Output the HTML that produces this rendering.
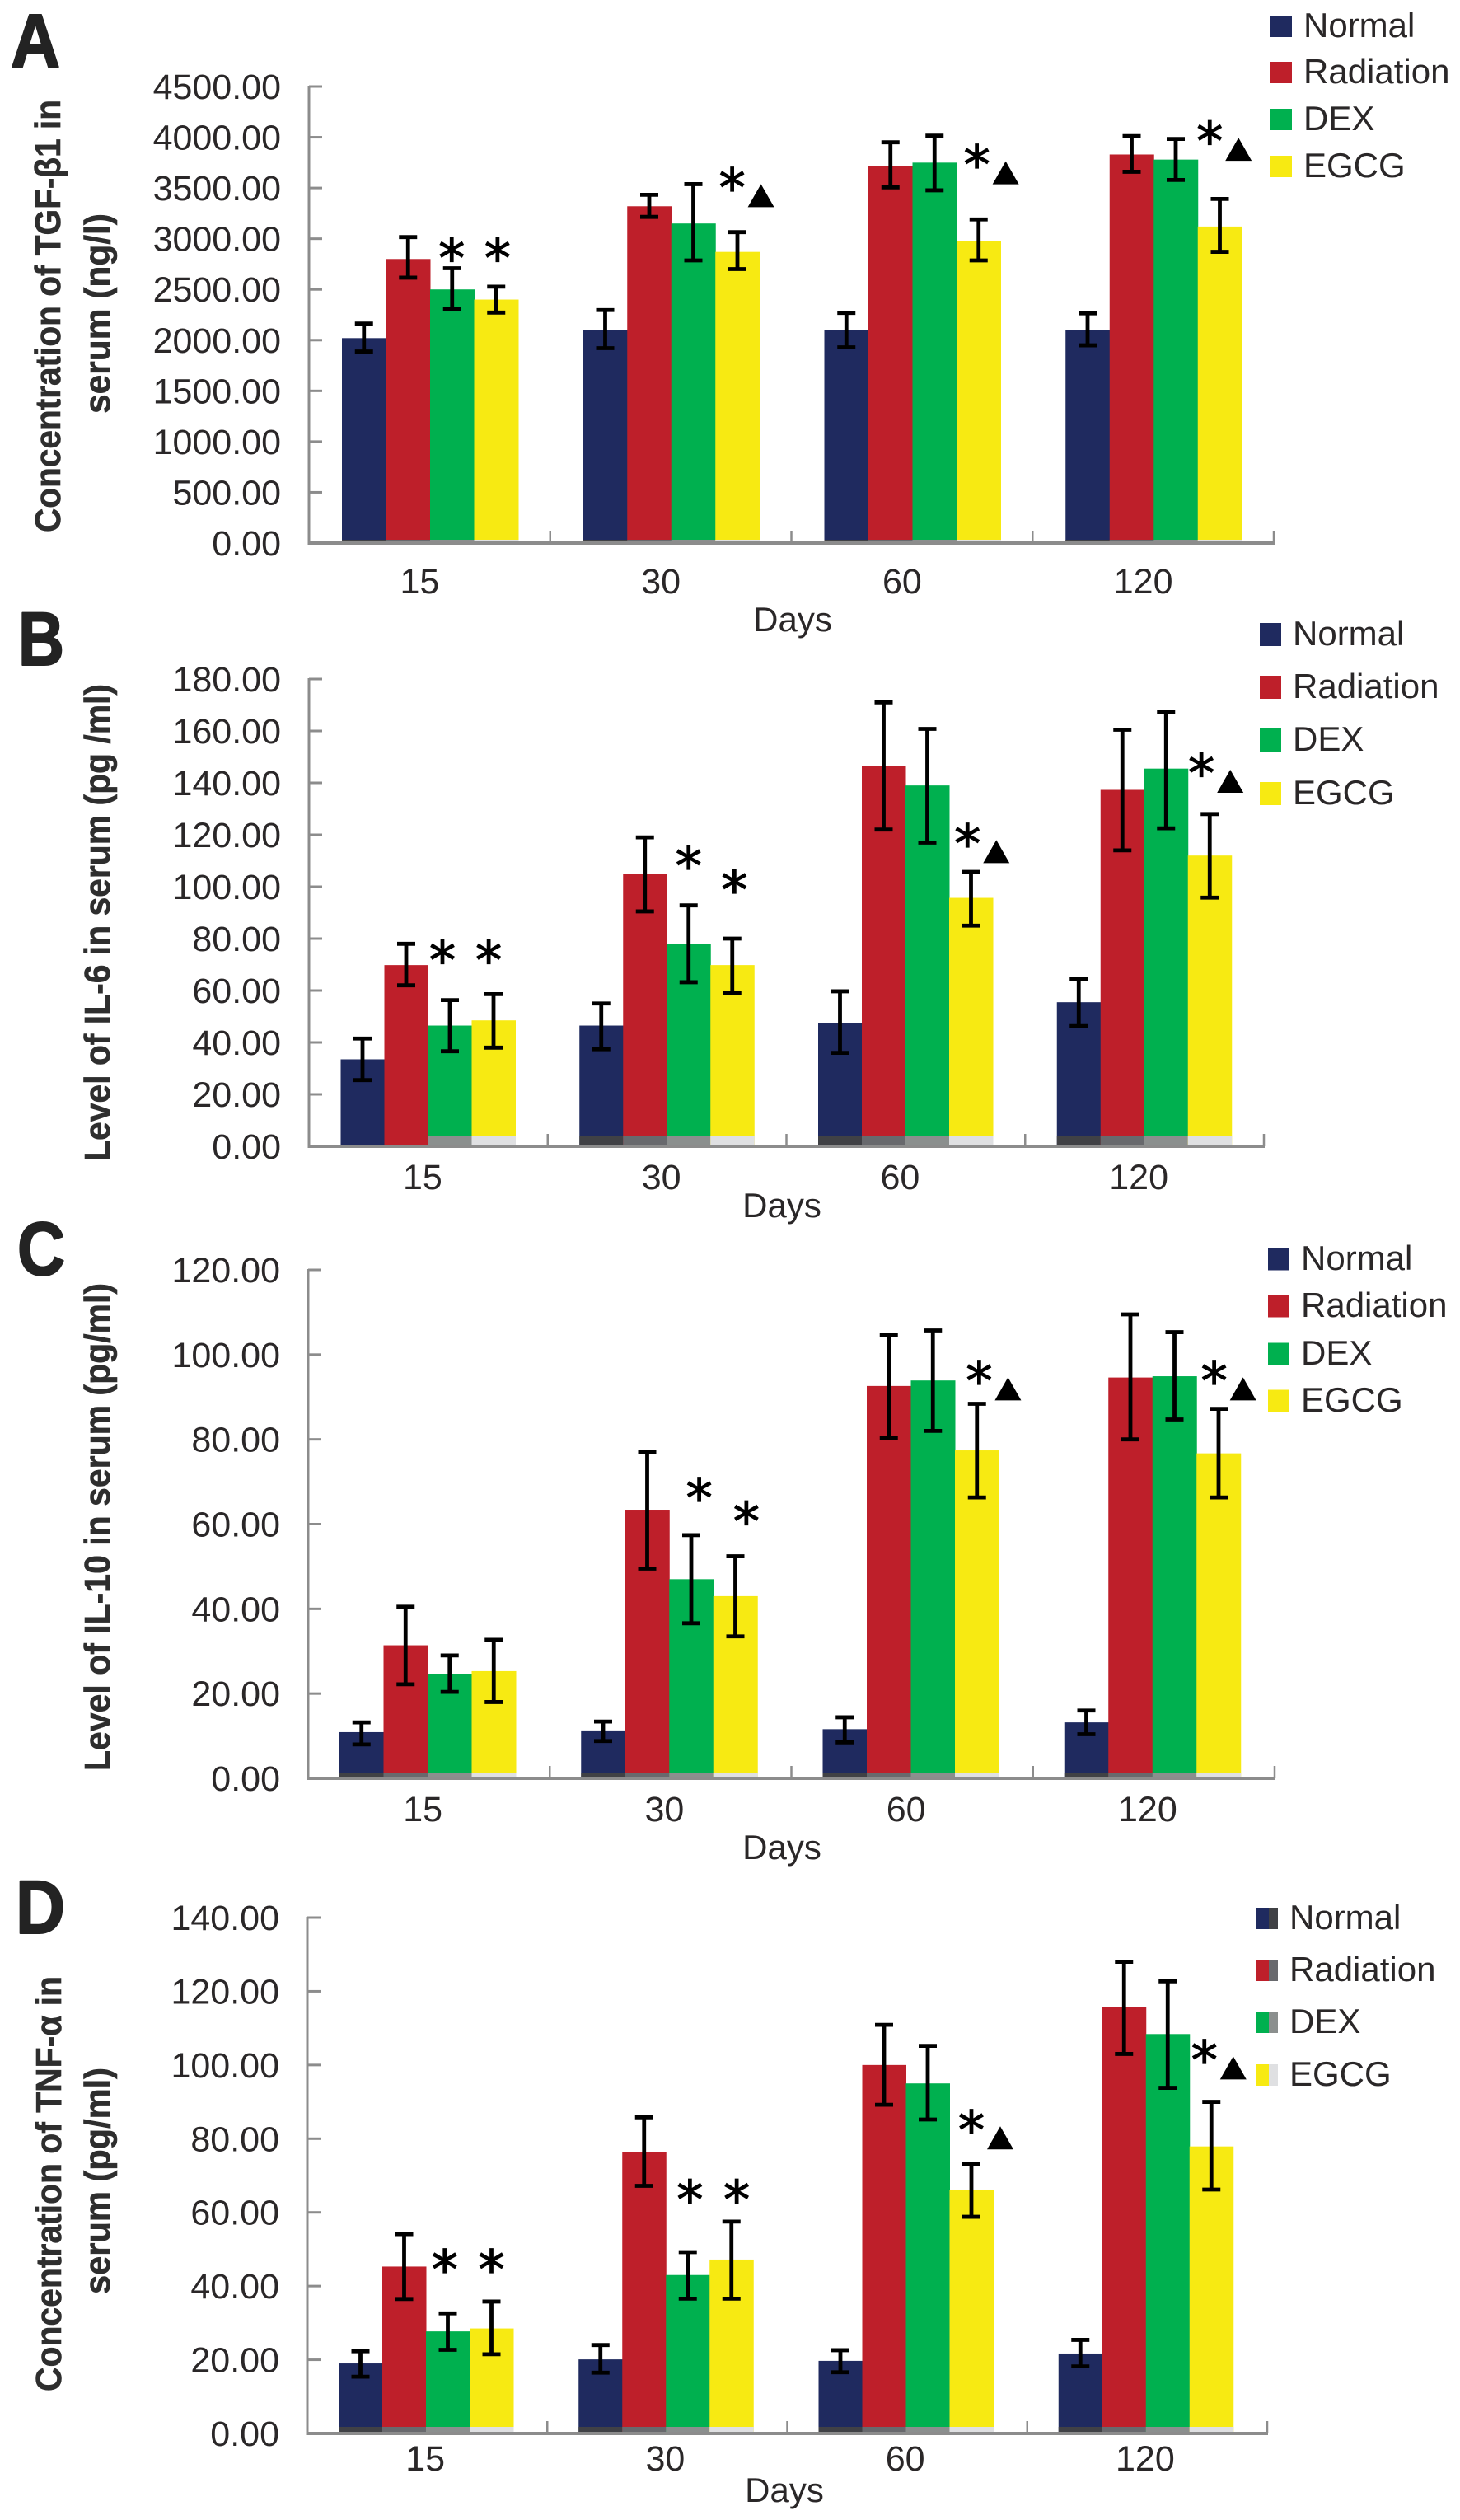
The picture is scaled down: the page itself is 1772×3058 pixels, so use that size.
<!DOCTYPE html>
<html lang="en">
<head>
<meta charset="utf-8">
<title>Serum cytokine levels by group and day</title>
<style>
html,body{margin:0;padding:0;background:#fff;}
svg{display:block;}
text{font-family:"Liberation Sans",sans-serif;fill:#2a2728;}
.tl{font-size:42px;}
.tk{font-size:43px;}
.yt{font-size:44px;font-weight:bold;fill:#2e2e2e;stroke:#2e2e2e;stroke-width:0.6px;}
.pl{font-size:92px;font-weight:bold;fill:#232323;stroke:#232323;stroke-width:2px;stroke-linejoin:round;}
</style>
</head>
<body>
<svg id="figure" xmlns="http://www.w3.org/2000/svg" width="1772" height="3058" viewBox="0 0 1772 3058">
  <rect x="0" y="0" width="1772" height="3058" fill="#fff"/>

  <g id="panel-a">
    <text class="pl" x="13" y="81" textLength="60" lengthAdjust="spacingAndGlyphs">A</text>
    <text class="yt" transform="translate(73,646) rotate(-90)" textLength="525" lengthAdjust="spacingAndGlyphs">Concentration of TGF-β1 in</text>
    <text class="yt" transform="translate(133,502) rotate(-90)" textLength="243" lengthAdjust="spacingAndGlyphs">serum (ng/l)</text>
    <text class="tl" x="962" y="766" text-anchor="middle">Days</text>
  </g>

  <g id="panel-b">
    <text class="pl" x="22" y="807" textLength="56" lengthAdjust="spacingAndGlyphs">B</text>
    <text class="yt" transform="translate(133,1409) rotate(-90)" textLength="579" lengthAdjust="spacingAndGlyphs">Level of IL-6 in serum (pg /ml)</text>
    <text class="tl" x="949" y="1477" text-anchor="middle">Days</text>
  </g>

  <g id="panel-c">
    <text class="pl" x="21" y="1547" textLength="58" lengthAdjust="spacingAndGlyphs">C</text>
    <text class="yt" transform="translate(133,2149) rotate(-90)" textLength="592" lengthAdjust="spacingAndGlyphs">Level of IL-10 in serum (pg/ml)</text>
    <text class="tl" x="949" y="2256" text-anchor="middle">Days</text>
  </g>

  <g id="panel-d">
    <text class="pl" x="19" y="2346" textLength="60" lengthAdjust="spacingAndGlyphs">D</text>
    <text class="yt" transform="translate(74,2902) rotate(-90)" textLength="504" lengthAdjust="spacingAndGlyphs">Concentration of TNF-α in</text>
    <text class="yt" transform="translate(133,2784) rotate(-90)" textLength="275" lengthAdjust="spacingAndGlyphs">serum (pg/ml)</text>
    <text class="tl" x="952" y="3036" text-anchor="middle">Days</text>
  </g>
</svg>

<script>
// ---- data ----
const categories = ['15', '30', '60', '120'];
const seriesNames = ['Normal', 'Radiation', 'DEX', 'EGCG'];

const aTicks = ['0.00', '500.00', '1000.00', '1500.00', '2000.00', '2500.00', '3000.00', '3500.00', '4000.00', '4500.00'];
const aNormal = [2020, 2100, 2100, 2100];
const aNormalHi = [2163, 2297, 2268, 2264];
const aNormalLo = [1888, 1921, 1929, 1949];
const aRadiation = [2800, 3320, 3720, 3830];
const aRadiationHi = [3016, 3433, 3950, 4011];
const aRadiationLo = [2616, 3215, 3506, 3660];
const aDex = [2500, 3150, 3750, 3780];
const aDexHi = [2709, 3538, 4015, 3983];
const aDexLo = [2305, 2786, 3477, 3579];
const aEgcg = [2400, 2870, 2980, 3120];
const aEgcgHi = [2527, 3065, 3190, 3392];
const aEgcgLo = [2272, 2701, 2786, 2871];
// group index, fractional bar slot, value level, has triangle
const aMarks = [[0, 2.49, 2891, 0], [0, 3.53, 2891, 0], [1, 3.38, 3587, 1], [2, 3.46, 3813, 1], [3, 3.27, 4044, 1]];

const bTicks = ['0.00', '20.00', '40.00', '60.00', '80.00', '100.00', '120.00', '140.00', '160.00', '180.00'];
const bNormal = [33.5, 46.5, 47.5, 55.5];
const bNormalHi = [41.5, 55, 59.7, 64.3];
const bNormalLo = [25.5, 37.4, 36, 46.3];
const bRadiation = [69.8, 105, 146.5, 137.3];
const bRadiationHi = [78, 119, 171, 160.5];
const bRadiationLo = [62, 90.5, 122, 114];
const bDex = [46.5, 77.8, 139, 145.5];
const bDexHi = [56.3, 92.8, 160.8, 167.4];
const bDexLo = [36.6, 63.2, 117, 122.5];
const bEgcg = [48.5, 69.8, 95.7, 112];
const bEgcgHi = [58.6, 80, 105.7, 128];
const bEgcgLo = [38, 59, 85, 95.8];
const bMarks = [[0, 2.33, 75, 0], [0, 3.39, 75, 0], [1, 2.5, 111.2, 0], [1, 3.55, 102, 0], [2, 3.42, 119.9, 1], [3, 3.31, 147, 1]];

const cTicks = ['0.00', '20.00', '40.00', '60.00', '80.00', '100.00', '120.00'];
const cNormal = [10.9, 11.3, 11.6, 13.2];
const cNormalHi = [13.2, 13.4, 14.4, 16];
const cNormalLo = [8, 8.8, 8.5, 10.4];
const cRadiation = [31.4, 63.4, 92.6, 94.6];
const cRadiationHi = [40.5, 77, 104.7, 109.5];
const cRadiationLo = [22.2, 49.5, 80.3, 80];
const cDex = [24.7, 47, 93.9, 94.9];
const cDexHi = [29, 57.4, 105.7, 105.3];
const cDexLo = [20.4, 36.6, 82, 84.7];
const cEgcg = [25.3, 43, 77.4, 76.7];
const cEgcgHi = [32.7, 52.4, 88.4, 87.2];
const cEgcgLo = [18, 33.5, 66.3, 66.3];
const cMarks = [[1, 2.68, 68.2, 0], [1, 3.75, 62.6, 0], [2, 3.55, 95.8, 1], [3, 3.4, 95.8, 1]];

const dTicks = ['0.00', '20.00', '40.00', '60.00', '80.00', '100.00', '120.00', '140.00'];
const dNormal = [19, 20.1, 19.7, 21.7];
const dNormalHi = [22.3, 24, 22.6, 25.4];
const dNormalLo = [15.4, 16.5, 16.6, 18.2];
const dRadiation = [45.3, 76.4, 100, 115.7];
const dRadiationHi = [54.1, 85.8, 110.9, 128];
const dRadiationLo = [36.5, 67.2, 89.2, 103];
const dDex = [27.7, 43, 95, 108.4];
const dDexHi = [32.6, 49.2, 105.2, 122.7];
const dDexLo = [22.7, 36.6, 85.2, 93.8];
const dEgcg = [28.5, 47.2, 66.2, 77.9];
const dEgcgHi = [35.8, 57.5, 73.1, 90];
const dEgcgLo = [21.5, 36.6, 58.8, 66.2];
const dMarks = [[0, 2.43, 46.9, 0], [0, 3.5, 46.9, 0], [1, 2.55, 65.8, 0], [1, 3.62, 65.8, 0], [2, 3.5, 84.7, 1], [3, 3.34, 103.7, 1]];

// ---- styling ----
const colors = ['#1f2a5f', '#be1f2a', '#00b04f', '#f7ea12'];
const stripColors = ['#404145', '#68696d', '#8b8f8e', '#dfe0e2'];
const NS = 'http://www.w3.org/2000/svg';

function make(parent, tag, attrs, text) {
  const el = document.createElementNS(NS, tag);
  for (const k in attrs) el.setAttribute(k, attrs[k]);
  if (text !== undefined) el.textContent = text;
  parent.appendChild(el);
  return el;
}

function drawPanel(cfg) {
  const root = document.getElementById(cfg.id);
  const tickVals = cfg.ticks.map(Number);
  const yMax = tickVals[tickVals.length - 1];
  const y = v => cfg.y0 - (v / yMax) * (cfg.y0 - cfg.yTop);
  const groupW = (cfg.xEnd - cfg.x0) / categories.length;
  const groupX = g => cfg.x0 + g * groupW + cfg.barOffset;
  const barX = (g, s) => groupX(g) + s * cfg.barW;

  // bars
  cfg.values.forEach((vals, s) => {
    vals.forEach((v, g) => {
      const bar = make(root, 'rect', { x: barX(g, s), y: y(v), width: cfg.barW + 0.5, height: cfg.y0 - y(v), fill: colors[s] });
      
      
      const skip = cfg.stripSkip && g === 0 && s < 2;
      if (!skip) {
        const strip = make(root, 'rect', { x: barX(g, s), y: cfg.y0 - cfg.stripH, width: cfg.barW + 0.5, height: cfg.stripH, fill: stripColors[s] });
        
        
      }
    });
  });

  // error bars
  cfg.values.forEach((vals, s) => {
    vals.forEach((v, g) => {
      const cx = barX(g, s) + cfg.barW / 2;
      const top = y(cfg.hi[s][g]);
      const bot = y(cfg.lo[s][g]);
      const err = make(root, 'path', {
        d: 'M' + (cx - 11) + ' ' + top + 'H' + (cx + 11) + 'M' + cx + ' ' + top + 'V' + bot + 'M' + (cx - 11) + ' ' + bot + 'H' + (cx + 11),
        stroke: '#000', 'stroke-width': 4.8, fill: 'none'
      });
      
      
    });
  });

  // axes
  const yAxis = make(root, 'line', { x1: cfg.x0, y1: cfg.yTop - 1, x2: cfg.x0, y2: cfg.y0 + 2, stroke: '#8c8c8c', 'stroke-width': 3 });
  
  
  const xAxis = make(root, 'line', { x1: cfg.x0, y1: cfg.y0, x2: cfg.xEnd + 1, y2: cfg.y0, stroke: '#8c8c8c', 'stroke-width': 4 });
  
  

  cfg.ticks.forEach((label, i) => {
    const ty = y(tickVals[i]);
    if (i > 0) {
      const t = make(root, 'line', { x1: cfg.x0, y1: ty, x2: cfg.x0 + 16, y2: ty, stroke: '#8c8c8c', 'stroke-width': 3 });
      
      
    }
    const lab = make(root, 'text', { class: 'tk', x: cfg.x0 - 34, y: ty + 15, 'text-anchor': 'end' }, label);
    
    
  });

  for (let g = 1; g <= categories.length; g++) {
    const tx = cfg.x0 + g * groupW;
    const t = make(root, 'line', { x1: tx, y1: cfg.y0 - 15, x2: tx, y2: cfg.y0, stroke: '#8c8c8c', 'stroke-width': 2.5 });
    
    
  }
  categories.forEach((c, g) => {
    const lab = make(root, 'text', { class: 'tk', x: cfg.x0 + (g + 0.5) * groupW + cfg.catOffset, y: cfg.catY, 'text-anchor': 'middle' }, c);
    
    
  });

  // significance marks
  cfg.marks.forEach(m => {
    const mx = groupX(m[0]) + m[1] * cfg.barW;
    const my = y(m[2]);
    const star = make(root, 'text', { x: mx, y: my + 33, 'text-anchor': 'middle', style: 'font-family:"DejaVu Sans",sans-serif;font-size:64px;fill:#000;stroke:#000;stroke-width:1.2px' }, '*');
    
    
    if (m[3]) {
      const tx = mx + 35;
      const ty = my + 20;
      const tri = make(root, 'polygon', { points: (tx - 16) + ',' + (ty + 14) + ' ' + (tx + 16) + ',' + (ty + 14) + ' ' + tx + ',' + (ty - 14), fill: '#000' });
      
      
    }
  });

  // legend
  seriesNames.forEach((name, s) => {
    const cy = cfg.legendY[s];
    const sw = make(root, 'rect', { x: cfg.legendX, y: cy - cfg.swatchH / 2, width: 26, height: cfg.swatchH, fill: colors[s] });
    
    
    if (cfg.legendSplit) {
      const half = make(root, 'rect', { x: cfg.legendX + 15, y: cy - cfg.swatchH / 2, width: 11, height: cfg.swatchH, fill: stripColors[s] });
      
      
    }
    const lab = make(root, 'text', { class: 'tl', x: cfg.legendX + 40, y: cy + 13 }, name);
    
    
  });
}

drawPanel({
  id: 'panel-a', ticks: aTicks, marks: aMarks,
  values: [aNormal, aRadiation, aDex, aEgcg],
  hi: [aNormalHi, aRadiationHi, aDexHi, aEgcgHi],
  lo: [aNormalLo, aRadiationLo, aDexLo, aEgcgLo],
  x0: 375, xEnd: 1546, y0: 659, yTop: 105, barOffset: 40, barW: 53.5,
  stripH: 4, stripSkip: false, catOffset: -12, catY: 720,
  legendX: 1542, legendY: [32, 88, 145, 202], swatchH: 26, legendSplit: false
});
drawPanel({
  id: 'panel-b', ticks: bTicks, marks: bMarks,
  values: [bNormal, bRadiation, bDex, bEgcg],
  hi: [bNormalHi, bRadiationHi, bDexHi, bEgcgHi],
  lo: [bNormalLo, bRadiationLo, bDexLo, bEgcgLo],
  x0: 375, xEnd: 1534, y0: 1391, yTop: 824, barOffset: 38.5, barW: 53,
  stripH: 13, stripSkip: true, catOffset: -7, catY: 1443,
  legendX: 1529, legendY: [770, 834, 898, 963], swatchH: 28, legendSplit: false
});
drawPanel({
  id: 'panel-c', ticks: cTicks, marks: cMarks,
  values: [cNormal, cRadiation, cDex, cEgcg],
  hi: [cNormalHi, cRadiationHi, cDexHi, cEgcgHi],
  lo: [cNormalLo, cRadiationLo, cDexLo, cEgcgLo],
  x0: 374, xEnd: 1547, y0: 2158, yTop: 1541, barOffset: 38, barW: 53.5,
  stripH: 7, stripSkip: false, catOffset: -7.5, catY: 2210,
  legendX: 1539, legendY: [1528, 1585, 1643, 1700], swatchH: 27, legendSplit: false
});
drawPanel({
  id: 'panel-d', ticks: dTicks, marks: dMarks,
  values: [dNormal, dRadiation, dDex, dEgcg],
  hi: [dNormalHi, dRadiationHi, dDexHi, dEgcgHi],
  lo: [dNormalLo, dRadiationLo, dDexLo, dEgcgLo],
  x0: 373, xEnd: 1538, y0: 2953, yTop: 2327, barOffset: 38, barW: 53,
  stripH: 8, stripSkip: false, catOffset: -2.5, catY: 2998,
  legendX: 1525, legendY: [2328, 2391, 2454, 2518], swatchH: 26, legendSplit: true
});
</script>
</body>
</html>
